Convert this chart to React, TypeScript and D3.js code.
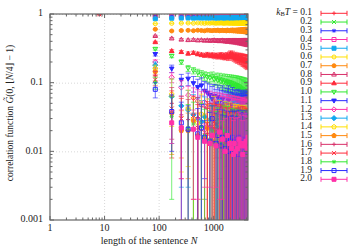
import React from 'react';
import * as d3 from 'd3';

const temperatures = ["0.1","0.2","0.3","0.4","0.5","0.6","0.7","0.8","0.9","1.0","1.1","1.2","1.3","1.4","1.5","1.6","1.7","1.8","1.9","2.0"];
const sentenceLengths = [85,170,255,340,425,510,595,680,765,850,935,1020,1105,1190,1275,1360,1445,1530,1615,1700,1785,1870,1955,2040,2125,2210,2295,2380,2465,2550,2635,2720,2805,2890,2975,3060,3145,3230,3315,3400,3485,3570,3655,3740,3825,3910,3995,4080,4165,4250];
const shortLength = 8;
const shortLengthSeries = [15, 16];
const shortLengthValues = [0.99, 0.99];
const xTickValues = [1, 10, 100, 1000];
const xTickLabels = ["1", "10", "100", "1000"];
const yTickValues = [0.001, 0.01, 0.1, 1];
const yTickLabels = ["0.001", "0.01", "0.1", "1"];

const v01 = [0.985,0.982,0.986,0.981,0.984,0.983,0.987,0.980,0.985,0.982,0.984,0.986,0.981,0.983,0.985,0.980,0.984,0.982,0.986,0.983,0.981,0.985,0.983,0.980,0.984,0.986,0.982,0.983,0.985,0.981,0.984,0.982,0.986,0.980,0.983,0.985,0.982,0.984,0.981,0.986,0.983,0.980,0.985,0.982,0.984,0.981,0.983,0.986,0.982,0.984];
const e01 = [0.004,0.006,0.005,0.007,0.008,0.007,0.009,0.010,0.009,0.011,0.012,0.011,0.013,0.014,0.013,0.015,0.016,0.015,0.017,0.018,0.017,0.019,0.020,0.019,0.021,0.022,0.021,0.023,0.024,0.023,0.025,0.026,0.025,0.027,0.028,0.027,0.029,0.030,0.029,0.031,0.032,0.031,0.033,0.034,0.033,0.035,0.036,0.035,0.037,0.038];
const v02 = [0.968,0.964,0.967,0.962,0.966,0.963,0.965,0.961,0.966,0.963,0.960,0.965,0.962,0.964,0.959,0.963,0.961,0.965,0.960,0.962,0.958,0.963,0.960,0.962,0.957,0.961,0.959,0.962,0.956,0.960,0.958,0.961,0.955,0.959,0.957,0.960,0.954,0.958,0.956,0.959,0.953,0.957,0.955,0.958,0.952,0.956,0.954,0.957,0.951,0.955];
const e02 = [0.005,0.007,0.006,0.008,0.009,0.008,0.010,0.011,0.010,0.012,0.013,0.012,0.014,0.015,0.014,0.016,0.017,0.016,0.018,0.019,0.018,0.020,0.021,0.020,0.022,0.023,0.022,0.024,0.025,0.024,0.026,0.027,0.026,0.028,0.029,0.028,0.030,0.031,0.030,0.032,0.033,0.032,0.034,0.035,0.034,0.036,0.037,0.036,0.038,0.039];
const v03 = [0.948,0.944,0.946,0.941,0.945,0.942,0.944,0.940,0.943,0.939,0.942,0.938,0.941,0.937,0.940,0.936,0.939,0.935,0.938,0.934,0.937,0.933,0.936,0.932,0.935,0.931,0.934,0.930,0.933,0.929,0.932,0.928,0.931,0.927,0.930,0.926,0.929,0.925,0.928,0.924,0.927,0.923,0.926,0.922,0.925,0.921,0.924,0.920,0.923,0.919];
const e03 = [0.005,0.006,0.007,0.008,0.008,0.009,0.010,0.011,0.011,0.012,0.013,0.014,0.014,0.015,0.016,0.017,0.017,0.018,0.019,0.020,0.020,0.021,0.022,0.023,0.023,0.024,0.025,0.026,0.026,0.027,0.028,0.029,0.029,0.030,0.031,0.032,0.032,0.033,0.034,0.035,0.035,0.036,0.037,0.038,0.038,0.039,0.040,0.041,0.041,0.042];
const v04 = [0.925,0.921,0.923,0.918,0.922,0.917,0.920,0.916,0.919,0.914,0.918,0.913,0.917,0.912,0.915,0.911,0.914,0.909,0.913,0.908,0.912,0.907,0.910,0.906,0.909,0.904,0.908,0.903,0.907,0.902,0.905,0.901,0.904,0.899,0.903,0.898,0.902,0.897,0.900,0.896,0.899,0.894,0.898,0.893,0.897,0.892,0.895,0.891,0.894,0.889];
const e04 = [0.006,0.007,0.008,0.009,0.009,0.010,0.011,0.012,0.013,0.013,0.014,0.015,0.016,0.017,0.017,0.018,0.019,0.020,0.021,0.021,0.022,0.023,0.024,0.025,0.025,0.026,0.027,0.028,0.029,0.029,0.030,0.031,0.032,0.033,0.033,0.034,0.035,0.036,0.037,0.037,0.038,0.039,0.040,0.041,0.041,0.042,0.043,0.044,0.045,0.045];
const v05 = [0.852,0.868,0.872,0.874,0.871,0.876,0.873,0.877,0.872,0.875,0.878,0.874,0.876,0.871,0.877,0.874,0.879,0.873,0.876,0.872,0.878,0.875,0.870,0.877,0.874,0.879,0.872,0.876,0.873,0.878,0.871,0.875,0.877,0.872,0.879,0.874,0.870,0.876,0.873,0.878,0.871,0.875,0.879,0.872,0.876,0.874,0.870,0.877,0.873,0.875];
const e05 = [0.006,0.008,0.009,0.010,0.011,0.012,0.012,0.013,0.014,0.015,0.015,0.016,0.017,0.018,0.018,0.019,0.020,0.021,0.021,0.022,0.023,0.024,0.024,0.025,0.026,0.027,0.027,0.028,0.029,0.030,0.030,0.031,0.032,0.033,0.033,0.034,0.035,0.036,0.036,0.037,0.038,0.039,0.039,0.040,0.041,0.042,0.042,0.043,0.044,0.045];
const v06 = [0.722,0.731,0.735,0.738,0.733,0.740,0.736,0.731,0.739,0.734,0.741,0.737,0.732,0.738,0.735,0.742,0.736,0.730,0.739,0.734,0.743,0.737,0.731,0.740,0.735,0.738,0.729,0.741,0.736,0.733,0.744,0.737,0.730,0.739,0.734,0.742,0.736,0.728,0.740,0.735,0.738,0.731,0.743,0.736,0.729,0.741,0.734,0.739,0.732,0.737];
const e06 = [0.007,0.009,0.010,0.011,0.012,0.013,0.014,0.015,0.016,0.017,0.018,0.019,0.020,0.021,0.022,0.023,0.024,0.025,0.026,0.027,0.028,0.029,0.030,0.031,0.032,0.033,0.034,0.035,0.036,0.037,0.038,0.039,0.040,0.041,0.042,0.043,0.044,0.045,0.046,0.047,0.048,0.049,0.050,0.051,0.052,0.053,0.054,0.055,0.056,0.057];
const v07 = [0.600,0.566,0.574,0.578,0.571,0.580,0.575,0.569,0.582,0.576,0.572,0.579,0.574,0.583,0.570,0.577,0.581,0.573,0.578,0.568,0.584,0.575,0.571,0.579,0.576,0.585,0.569,0.574,0.580,0.572,0.578,0.567,0.583,0.575,0.570,0.581,0.576,0.573,0.586,0.568,0.577,0.574,0.582,0.571,0.579,0.566,0.575,0.583,0.572,0.577];
const e07 = [0.008,0.010,0.011,0.012,0.013,0.014,0.015,0.016,0.017,0.018,0.019,0.020,0.021,0.022,0.023,0.024,0.025,0.026,0.027,0.028,0.029,0.030,0.031,0.032,0.033,0.034,0.035,0.036,0.037,0.038,0.039,0.040,0.041,0.042,0.043,0.044,0.045,0.046,0.047,0.048,0.049,0.050,0.051,0.052,0.053,0.054,0.055,0.056,0.057,0.058];
const v08 = [0.480,0.442,0.425,0.418,0.421,0.414,0.417,0.411,0.415,0.409,0.413,0.416,0.408,0.412,0.405,0.410,0.414,0.406,0.403,0.409,0.401,0.407,0.411,0.402,0.398,0.405,0.400,0.408,0.396,0.403,0.399,0.394,0.402,0.397,0.392,0.400,0.395,0.390,0.398,0.393,0.388,0.396,0.391,0.386,0.394,0.389,0.385,0.392,0.387,0.384];
const e08 = [0.010,0.012,0.013,0.014,0.015,0.016,0.017,0.017,0.018,0.019,0.020,0.021,0.021,0.022,0.023,0.024,0.025,0.025,0.026,0.027,0.028,0.029,0.029,0.030,0.031,0.032,0.033,0.033,0.034,0.035,0.036,0.037,0.037,0.038,0.039,0.040,0.041,0.041,0.042,0.043,0.044,0.045,0.045,0.046,0.047,0.048,0.049,0.049,0.050,0.051];
const v09 = [0.390,0.290,0.280,0.266,0.272,0.262,0.255,0.250,0.258,0.248,0.253,0.244,0.250,0.241,0.247,0.252,0.240,0.246,0.238,0.243,0.249,0.236,0.254,0.262,0.245,0.258,0.240,0.233,0.246,0.228,0.238,0.224,0.235,0.229,0.220,0.232,0.218,0.226,0.214,0.224,0.211,0.219,0.208,0.216,0.205,0.213,0.202,0.210,0.199,0.207];
const e09 = [0.010,0.012,0.013,0.014,0.015,0.016,0.016,0.017,0.018,0.018,0.019,0.020,0.020,0.021,0.022,0.022,0.023,0.024,0.024,0.025,0.026,0.026,0.027,0.028,0.028,0.029,0.030,0.030,0.031,0.032,0.032,0.033,0.034,0.034,0.035,0.036,0.036,0.037,0.038,0.038,0.039,0.040,0.040,0.041,0.042,0.042,0.043,0.044,0.044,0.045];
const v10 = [0.310,0.245,0.200,0.162,0.150,0.140,0.132,0.126,0.121,0.118,0.123,0.112,0.116,0.108,0.114,0.104,0.110,0.101,0.107,0.098,0.104,0.095,0.102,0.093,0.099,0.090,0.097,0.088,0.094,0.086,0.092,0.083,0.089,0.080,0.087,0.077,0.084,0.074,0.081,0.070,0.079,0.066,0.076,0.062,0.073,0.058,0.070,0.055,0.067,0.052];
const e10 = [0.012,0.014,0.015,0.016,0.016,0.017,0.018,0.018,0.019,0.020,0.020,0.021,0.022,0.022,0.023,0.024,0.024,0.025,0.026,0.026,0.027,0.028,0.028,0.029,0.030,0.030,0.031,0.032,0.032,0.033,0.034,0.034,0.035,0.036,0.036,0.037,0.038,0.038,0.039,0.040,0.040,0.041,0.042,0.042,0.043,0.044,0.044,0.045,0.046,0.046];
const v11 = [0.260,0.160,0.110,0.114,0.098,0.086,0.091,0.076,0.071,0.066,0.058,0.064,0.049,0.061,0.052,0.045,0.057,0.043,0.050,0.040,0.047,0.055,0.038,0.044,0.036,0.048,0.033,0.042,0.030,0.039,0.035,0.028,0.041,0.031,0.026,0.037,0.029,0.034,0.024,0.032,0.027,0.036,0.023,0.030,0.025,0.033,0.022,0.028,0.031,0.024];
const e11 = [0.015,0.020,0.022,0.024,0.025,0.026,0.027,0.028,0.028,0.029,0.030,0.030,0.031,0.031,0.032,0.032,0.033,0.033,0.034,0.034,0.035,0.035,0.035,0.036,0.036,0.037,0.037,0.037,0.038,0.038,0.038,0.039,0.039,0.039,0.040,0.040,0.040,0.041,0.041,0.041,0.042,0.042,0.042,0.043,0.043,0.043,0.044,0.044,0.044,0.045];
const v12 = [0.200,0.120,0.085,0.066,0.060,0.054,0.048,0.052,0.044,0.047,0.040,0.043,0.037,0.041,0.034,0.039,0.032,0.036,0.030,0.035,0.028,0.033,0.027,0.031,0.025,0.030,0.024,0.028,0.022,0.027,0.021,0.026,0.020,0.024,0.019,0.023,0.018,0.022,0.017,0.021,0.016,0.020,0.018,0.019,0.015,0.021,0.017,0.019,0.016,0.018];
const e12 = [0.015,0.020,0.022,0.023,0.024,0.025,0.026,0.026,0.027,0.028,0.028,0.029,0.029,0.030,0.030,0.031,0.031,0.032,0.032,0.032,0.033,0.033,0.034,0.034,0.034,0.035,0.035,0.035,0.036,0.036,0.036,0.037,0.037,0.037,0.038,0.038,0.038,0.038,0.039,0.039,0.039,0.040,0.040,0.040,0.040,0.041,0.041,0.041,0.041,0.042];
const v13 = [0.180,0.063,0.046,0.040,0.034,0.030,0.027,0.032,null,0.029,0.021,null,0.019,0.024,0.028,null,0.022,0.017,0.025,null,0.015,0.023,null,0.021,0.014,null,0.024,0.016,null,0.013,0.018,0.022,null,0.017,0.012,null,0.016,0.019,null,0.018,0.014,null,0.015,0.012,null,0.019,0.013,null,0.018,0.014];
const e13 = [0.020,0.050,0.043,0.037,0.033,0.030,0.028,0.030,0.027,0.029,0.026,0.028,0.025,0.027,0.029,0.025,0.027,0.024,0.028,0.026,0.024,0.028,0.026,0.027,0.024,0.026,0.029,0.025,0.027,0.024,0.026,0.028,0.025,0.026,0.024,0.028,0.026,0.027,0.025,0.027,0.025,0.028,0.026,0.025,0.027,0.028,0.025,0.027,0.028,0.026];
const v14 = [0.160,0.068,0.022,0.042,0.030,0.026,0.035,null,0.028,0.019,null,0.031,0.017,null,0.026,0.015,null,0.018,0.024,null,0.020,null,0.023,0.013,null,0.016,0.021,null,0.018,null,0.020,0.014,null,0.011,0.019,null,0.013,0.018,null,0.012,null,0.014,0.019,null,0.016,null,0.015,0.018,null,0.014];
const e14 = [0.020,0.045,0.017,0.036,0.031,0.028,0.033,0.026,0.030,0.025,0.028,0.032,0.025,0.027,0.029,0.024,0.027,0.026,0.029,0.024,0.027,0.026,0.029,0.024,0.027,0.026,0.028,0.024,0.027,0.026,0.028,0.025,0.027,0.024,0.028,0.026,0.025,0.028,0.027,0.025,0.027,0.026,0.028,0.025,0.027,0.025,0.026,0.028,0.025,0.026];
const v15 = [0.145,0.036,0.020,0.020,0.028,0.017,null,0.015,0.022,null,0.014,0.021,null,0.013,0.020,null,0.012,0.019,null,0.022,null,0.017,null,0.018,0.014,null,0.012,null,0.010,0.017,null,0.019,null,0.015,null,0.018,0.010,null,0.016,null,0.013,0.017,null,0.015,null,0.014,null,0.016,0.013,null];
const e15 = [0.020,0.027,0.012,0.016,0.030,0.019,0.027,0.020,0.026,0.024,0.021,0.027,0.024,0.022,0.027,0.024,0.022,0.027,0.024,0.028,0.023,0.026,0.022,0.027,0.024,0.028,0.023,0.026,0.022,0.027,0.024,0.028,0.023,0.026,0.024,0.028,0.023,0.026,0.027,0.024,0.025,0.028,0.023,0.027,0.024,0.026,0.024,0.027,0.025,0.025];
const v16 = [0.126,0.050,0.034,0.029,null,0.031,0.020,null,0.018,0.023,null,0.021,0.025,null,0.019,0.022,null,0.018,null,0.013,0.017,null,0.012,0.016,null,0.011,0.015,null,0.013,null,0.012,0.016,null,0.011,null,0.017,null,0.015,0.010,null,0.013,null,0.011,0.014,null,0.012,null,0.010,0.013,null];
const e16 = [0.020,0.035,0.030,0.028,0.026,0.030,0.025,0.028,0.024,0.027,0.024,0.026,0.028,0.024,0.026,0.027,0.024,0.026,0.027,0.024,0.026,0.027,0.024,0.026,0.027,0.023,0.025,0.027,0.024,0.026,0.024,0.026,0.027,0.023,0.025,0.027,0.024,0.026,0.023,0.026,0.024,0.027,0.024,0.025,0.026,0.024,0.026,0.023,0.025,0.026];
const v17 = [0.110,0.042,0.030,null,0.033,0.022,null,0.019,0.025,null,0.023,0.027,null,0.021,null,0.014,0.020,null,0.013,0.018,null,0.012,null,0.021,0.014,null,0.011,0.016,null,0.013,null,0.012,0.017,null,0.011,null,0.014,null,0.012,0.018,null,0.015,null,0.017,null,0.012,0.016,null,0.015,null];
const e17 = [0.020,0.034,0.029,0.027,0.031,0.026,0.029,0.025,0.028,0.025,0.027,0.029,0.025,0.027,0.028,0.024,0.027,0.028,0.024,0.026,0.028,0.024,0.026,0.028,0.025,0.027,0.024,0.026,0.028,0.025,0.027,0.024,0.026,0.025,0.024,0.027,0.025,0.026,0.024,0.027,0.025,0.026,0.024,0.027,0.025,0.024,0.026,0.025,0.026,0.024];
const v18 = [0.100,0.032,null,0.022,0.025,null,0.023,0.017,null,0.015,0.020,null,0.014,0.018,null,0.013,null,0.020,0.012,null,0.019,null,0.015,null,0.012,0.017,null,0.015,null,0.011,0.016,null,0.010,null,0.012,0.015,null,0.014,null,0.010,null,0.015,0.011,null,0.012,null,0.010,0.013,null,0.014];
const e18 = [0.020,0.030,0.028,0.026,0.027,0.025,0.027,0.024,0.026,0.024,0.026,0.027,0.024,0.025,0.027,0.023,0.025,0.026,0.023,0.025,0.026,0.023,0.025,0.026,0.023,0.025,0.022,0.025,0.026,0.023,0.025,0.024,0.022,0.025,0.023,0.024,0.023,0.024,0.025,0.022,0.024,0.025,0.023,0.024,0.023,0.025,0.022,0.024,0.023,0.024];
const v19 = [0.080,0.038,0.026,0.021,null,0.018,0.022,0.016,null,0.014,0.030,null,0.013,0.017,null,0.012,0.016,null,0.011,0.015,null,0.010,0.014,null,0.011,0.016,null,0.014,null,0.010,0.015,null,0.009,0.016,null,0.014,null,0.013,0.015,null,0.012,null,0.010,0.013,null,0.015,null,0.012,null,0.013];
const e19 = [0.020,0.028,0.026,0.025,0.026,0.024,0.026,0.012,0.025,0.023,0.016,0.025,0.023,0.024,0.026,0.022,0.024,0.025,0.022,0.024,0.025,0.022,0.024,0.025,0.022,0.024,0.021,0.024,0.025,0.022,0.024,0.023,0.021,0.024,0.022,0.023,0.022,0.023,0.024,0.021,0.023,0.024,0.022,0.023,0.022,0.024,0.021,0.023,0.022,0.023];
const v20 = [null,0.026,0.022,null,0.021,0.016,null,0.014,null,0.013,0.017,null,0.012,null,0.019,null,0.015,null,0.010,null,0.017,null,0.013,null,0.011,null,0.009,0.013,null,0.010,null,0.011,null,0.015,null,0.013,null,0.012,null,0.009,null,0.013,null,0.012,null,0.014,null,0.011,null,0.016];
const e20 = [0.020,0.013,0.018,0.020,0.019,0.014,0.022,0.011,0.022,0.010,0.022,0.023,0.009,0.022,0.017,0.020,0.013,0.023,0.020,0.022,0.023,0.020,0.022,0.023,0.020,0.022,0.019,0.022,0.023,0.020,0.022,0.020,0.019,0.022,0.020,0.022,0.019,0.021,0.022,0.019,0.021,0.022,0.020,0.021,0.020,0.022,0.019,0.021,0.021,0.014];

const seriesValues = [v01,v02,v03,v04,v05,v06,v07,v08,v09,v10,v11,v12,v13,v14,v15,v16,v17,v18,v19,v20];
const seriesErrors = [e01,e02,e03,e04,e05,e06,e07,e08,e09,e10,e11,e12,e13,e14,e15,e16,e17,e18,e19,e20];

const palette = ["#ff2a3a", "#30e830", "#2a2aff", "#ff30a8", "#10a8f0", "#ffe000", "#ff8a10", "#d8306a"];
const markerTypes = ["plus","cross","star","sq","sqf","ci","cif","tri","trif","itri","itrif","dia","diaf","pent","pentf"];

const FONT = "'Liberation Serif', 'DejaVu Serif', serif";
const AXIS = "#666666";

function markerPath(type: string, cx: number, cy: number, s: number): string {
  switch (type) {
    case "plus": return `M${cx - s},${cy}H${cx + s}M${cx},${cy - s}V${cy + s}`;
    case "cross": return `M${cx - s},${cy - s}L${cx + s},${cy + s}M${cx - s},${cy + s}L${cx + s},${cy - s}`;
    case "star": return `M${cx - s},${cy}H${cx + s}M${cx},${cy - s}V${cy + s}M${cx - s * 0.75},${cy - s * 0.75}L${cx + s * 0.75},${cy + s * 0.75}M${cx - s * 0.75},${cy + s * 0.75}L${cx + s * 0.75},${cy - s * 0.75}`;
    case "sq": case "sqf": return `M${cx - s},${cy - s}H${cx + s}V${cy + s}H${cx - s}Z`;
    case "tri": case "trif": return `M${cx},${cy - s * 1.2}L${cx + s * 1.15},${cy + s * 0.8}L${cx - s * 1.15},${cy + s * 0.8}Z`;
    case "itri": case "itrif": return `M${cx},${cy + s * 1.2}L${cx + s * 1.15},${cy - s * 0.8}L${cx - s * 1.15},${cy - s * 0.8}Z`;
    case "dia": case "diaf": return `M${cx},${cy - s * 1.3}L${cx + s * 1.3},${cy}L${cx},${cy + s * 1.3}L${cx - s * 1.3},${cy}Z`;
    case "pent": case "pentf": {
      const pts = d3.range(5).map(i => {
        const a = -Math.PI / 2 + i * 2 * Math.PI / 5;
        return `${cx + s * 1.2 * Math.cos(a)},${cy + s * 1.2 * Math.sin(a)}`;
      });
      return `M${pts.join("L")}Z`;
    }
    default: return "";
  }
}

function Marker({ type, cx, cy, color, s = 2.0 }: { type: string; cx: number; cy: number; color: string; s?: number }) {
  if (type === "ci" || type === "cif") {
    return <circle cx={cx} cy={cy} r={s} fill={type === "cif" ? color : "none"} stroke={color} strokeWidth={1} />;
  }
  const filled = type.endsWith("f");
  return <path d={markerPath(type, cx, cy, s)} fill={filled ? color : "none"} stroke={color} strokeWidth={1} />;
}

export default function App() {
  const W = 360, H = 250;
  const left = 50, right = 248, top = 14, bottom = 220;
  const x = d3.scaleLog().domain([1, 4250]).range([left, right]);
  const y = d3.scaleLog().domain([0.001, 1]).range([bottom, top]);
  const capW = 2.5;

  const xMinor: number[] = [];
  [1, 10, 100, 1000].forEach(d => { for (let m = 2; m <= 9; m++) { const v = d * m; if (v <= 4250) xMinor.push(v); } });
  const yMinor: number[] = [];
  [0.001, 0.01, 0.1].forEach(d => { for (let m = 2; m <= 9; m++) yMinor.push(d * m); });

  const legendY = d3.scaleLinear().domain([0, temperatures.length - 1]).range([13.3, 179.3]);

  return (
    <svg width={W} height={H} style={{ position: "absolute", left: 0, top: 0, background: "#fff" }} fontFamily={FONT}>
      <defs>
        <clipPath id="plotclip"><rect x={left} y={top} width={right - left} height={bottom - top} /></clipPath>
      </defs>
      <rect x={0} y={0} width={W} height={H} fill="#fff" />
      <g stroke="#cfcfcf" strokeWidth={0.8} strokeDasharray="1,2">
        {xTickValues.slice(1).map(v => <line key={"gx" + v} x1={x(v)} x2={x(v)} y1={top} y2={bottom} />)}
        {yTickValues.slice(1).map(v => <line key={"gy" + v} x1={left} x2={right} y1={y(v) + 0.5} y2={y(v) + 0.5} />)}
      </g>
      <g clipPath="url(#plotclip)">
        {seriesValues.map((vals, si) => {
          const color = palette[si % palette.length];
          const mtype = markerTypes[si % markerTypes.length];
          const errs = seriesErrors[si];
          const extraIdx = shortLengthSeries.indexOf(si);
          const pts: { n: number; v: number; e: number }[] = [];
          if (extraIdx >= 0) pts.push({ n: shortLength, v: shortLengthValues[extraIdx], e: 0.005 });
          vals.forEach((v, i) => { if (v != null) pts.push({ n: sentenceLengths[i], v: v as number, e: errs[i] }); });
          return (
            <g key={"s" + si}>
              <g stroke={color} strokeWidth={0.9} strokeOpacity={0.72} fill="none">
                {pts.map((p, i) => {
                  const cx = x(p.n);
                  const hi = y(p.v + p.e);
                  const lo = p.v - p.e > 0 ? y(p.v - p.e) : bottom + 10;
                  return <path key={i} d={`M${cx},${hi}V${lo}M${cx - capW},${hi}H${cx + capW}M${cx - capW},${lo}H${cx + capW}`} />;
                })}
              </g>
              {pts.map((p, i) => <Marker key={"m" + i} type={mtype} cx={x(p.n)} cy={y(p.v)} color={color} />)}
            </g>
          );
        })}
      </g>
      <g stroke={AXIS} strokeWidth={1}>
        {xTickValues.map(v => <g key={"xt" + v}>
          <line x1={x(v)} x2={x(v)} y1={bottom} y2={bottom - 4} />
          <line x1={x(v)} x2={x(v)} y1={top} y2={top + 4} />
        </g>)}
        {xMinor.map(v => <g key={"xm" + v}>
          <line x1={x(v)} x2={x(v)} y1={bottom} y2={bottom - 2.5} />
          <line x1={x(v)} x2={x(v)} y1={top} y2={top + 2.5} />
        </g>)}
        {yTickValues.map(v => <g key={"yt" + v}>
          <line x1={left} x2={left + 4} y1={y(v)} y2={y(v)} />
          <line x1={right} x2={right - 4} y1={y(v)} y2={y(v)} />
        </g>)}
        {yMinor.map(v => <g key={"ym" + v}>
          <line x1={left} x2={left + 2.5} y1={y(v)} y2={y(v)} />
          <line x1={right} x2={right - 2.5} y1={y(v)} y2={y(v)} />
        </g>)}
      </g>
      <rect x={left} y={top} width={right - left} height={bottom - top} fill="none" stroke={AXIS} strokeWidth={1.2} />
      <g fontSize={10} fill="#222">
        {xTickValues.map((v, i) => <text key={"xl" + v} x={x(v)} y={228.5} textAnchor="middle" dominantBaseline="middle">{xTickLabels[i]}</text>)}
        {yTickValues.map((v, i) => <text key={"yl" + v} x={43} y={y(v)} textAnchor="end" dominantBaseline="middle">{yTickLabels[i]}</text>)}
      </g>
      <text x={(left + right) / 2} y={241.5} fontSize={10} fill="#222" textAnchor="middle" dominantBaseline="middle">
        length of the sentence <tspan fontStyle="italic">N</tspan>
      </text>
      <text transform="translate(11,113) rotate(-90)" fontSize={9.5} fill="#222" textAnchor="middle" dominantBaseline="middle">
        correlation function <tspan fontStyle="italic">G̃</tspan>(0, ⌊<tspan fontStyle="italic">N</tspan>/4⌋ − 1)
      </text>
      <g fontSize={9.5} fill="#222">
        {temperatures.map((t, i) => {
          const ly = legendY(i);
          const color = palette[i % palette.length];
          const mtype = markerTypes[i % markerTypes.length];
          return (
            <g key={"lg" + i}>
              {i === 0 ? (
                <text x={312} y={ly} textAnchor="end" dominantBaseline="middle">
                  <tspan fontStyle="italic">k</tspan><tspan fontSize={6.5} dy={2}>B</tspan><tspan fontStyle="italic" dy={-2}>T</tspan> = {t}
                </text>
              ) : (
                <text x={312} y={ly} textAnchor="end" dominantBaseline="middle">{t}</text>
              )}
              <path d={`M321,${ly}H347M321,${ly - 2.5}V${ly + 2.5}M347,${ly - 2.5}V${ly + 2.5}`} stroke={color} strokeWidth={1} fill="none" />
              <Marker type={mtype} cx={334} cy={ly} color={color} />
            </g>
          );
        })}
      </g>
    </svg>
  );
}
